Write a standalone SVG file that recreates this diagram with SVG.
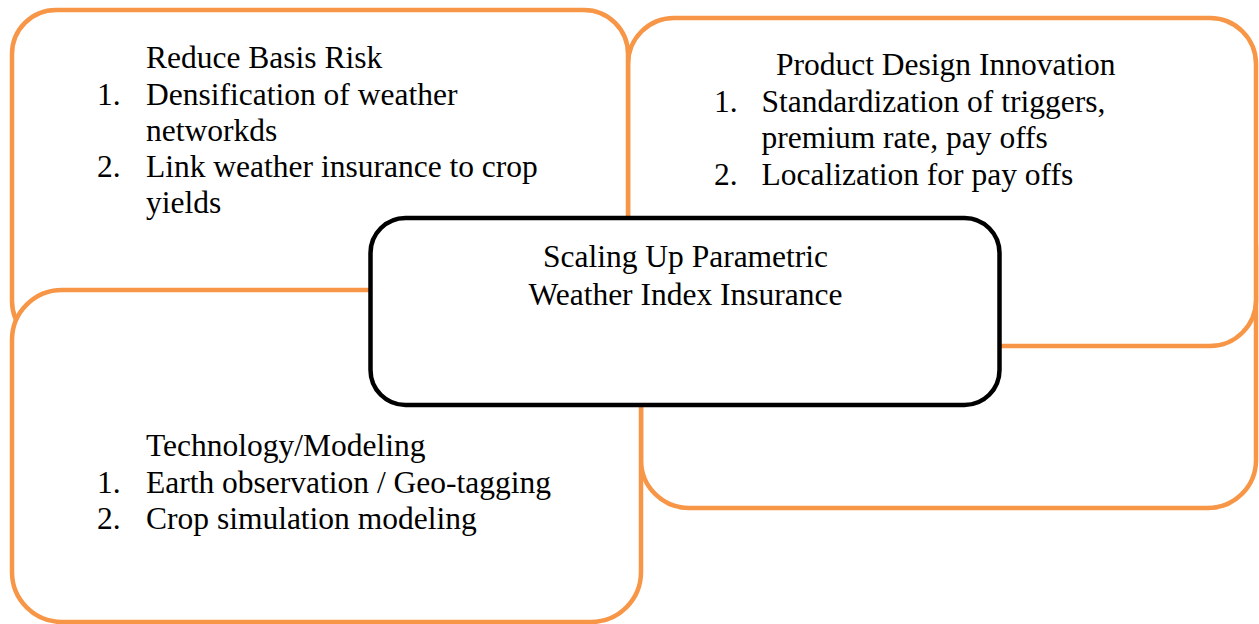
<svg xmlns="http://www.w3.org/2000/svg" width="1259" height="624" viewBox="0 0 1259 624">
  <style>
    .box { fill: #ffffff; stroke: #F79646; stroke-width: 4.5; }
    .center { fill: #ffffff; stroke: #000000; stroke-width: 4.5; }
    text { font-family: "Liberation Serif", "Times New Roman", serif; font-size: 31.5px; fill: #000000; }
    .mid { text-anchor: middle; }
  </style>
  <rect width="1259" height="624" fill="#ffffff"/>
  <g id="node-bottom-right">
    <rect class="box" x="641" y="200" width="615" height="308" rx="48" ry="48"/>
  </g>
  <g id="node-product-design">
    <rect class="box" x="628" y="18" width="628" height="328" rx="46" ry="46"/>
    <text x="776" y="75">Product Design Innovation</text>
    <text x="714" y="112">1.</text>
    <text x="761.5" y="112">Standardization of triggers,</text>
    <text x="761.5" y="148">premium rate, pay offs</text>
    <text x="714" y="185">2.</text>
    <text x="761.5" y="185">Localization for pay offs</text>
  </g>
  <g id="node-reduce-basis-risk">
    <rect class="box" x="12" y="10" width="616" height="335" rx="44" ry="44"/>
    <text x="146" y="68">Reduce Basis Risk</text>
    <text x="97" y="105">1.</text>
    <text x="146" y="105">Densification of weather</text>
    <text x="146" y="141">networkds</text>
    <text x="97" y="177">2.</text>
    <text x="146" y="177">Link weather insurance to crop</text>
    <text x="146" y="213">yields</text>
  </g>
  <g id="node-technology">
    <rect class="box" x="12" y="290" width="629" height="332" rx="50" ry="50"/>
    <text x="146" y="456">Technology/Modeling</text>
    <text x="97" y="493">1.</text>
    <text x="146" y="493">Earth observation / Geo-tagging</text>
    <text x="97" y="529">2.</text>
    <text x="146" y="529">Crop simulation modeling</text>
  </g>
  <g id="node-center">
    <rect class="center" x="370.5" y="218" width="629" height="187" rx="35" ry="35"/>
    <text class="mid" x="685.5" y="267">Scaling Up Parametric</text>
    <text class="mid" x="685.5" y="305">Weather Index Insurance</text>
  </g>
  <g id="connectors"></g>
</svg>
